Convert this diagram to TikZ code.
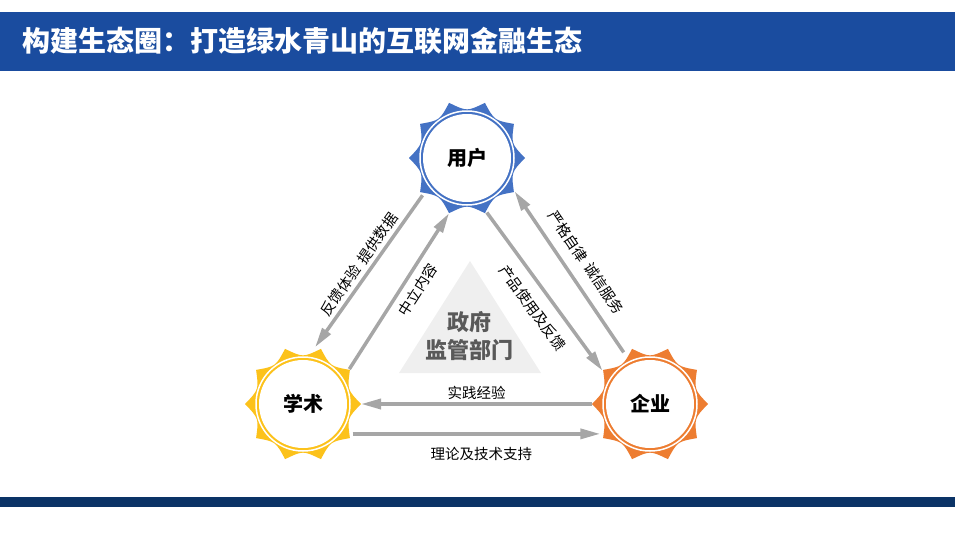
\documentclass[tikz,border=0pt]{standalone}
\usepackage{fontspec}
\newfontfamily\cjk{Noto Sans CJK SC}
\usetikzlibrary{arrows.meta,calc}
\definecolor{barblue}{HTML}{1A4C9F}
\definecolor{bardark}{HTML}{0B3366}
\definecolor{gblue}{HTML}{4472C4}
\definecolor{gyellow}{HTML}{FCC21B}
\definecolor{gorange}{HTML}{ED7D31}
\definecolor{lgray}{HTML}{A6A6A6}
\definecolor{trigray}{HTML}{EFEFEF}
\definecolor{govtext}{HTML}{595959}
\newcommand\mygear[2]{%
  \fill[#2] ($(#1)+(0:58)$)
    \foreach \i in {0,...,9}{ .. controls ($(#1)+({36*\i+18}:46.5)$) .. ($(#1)+({36*\i+36}:58)$)} -- cycle;
  \fill[white] (#1) circle[radius=44];
  \draw[white,line width=1.5pt] (#1) circle[radius=47];
}
\begin{document}
\begin{tikzpicture}[x=1pt,y=-1pt,
  gearnode/.style={circle,minimum size=116pt,inner sep=0pt,outer sep=0pt,
    font=\cjk\bfseries\fontsize{20}{22}\selectfont},
  link/.style={draw=lgray,line width=3.5pt,-{Triangle[length=20pt,width=10pt]}},
  lab/.style={font=\cjk\fontsize{14.5}{15}\selectfont,inner sep=0pt,sloped}]
\useasboundingbox (0,0) rectangle (955,536);
\fill[barblue] (0,12) rectangle (955,71);
\fill[bardark] (0,497) rectangle (955,507);
\node[anchor=west,text=white,font=\cjk\bfseries\fontsize{28}{30}\selectfont] (title) at (19,41) {构建生态圈：打造绿水青山的互联网金融生态};

\fill[trigray] (470,261) -- (541,373) -- (399,373) -- cycle;
\node[align=center,text=govtext,font=\cjk\bfseries\fontsize{22}{28}\selectfont] (gov) at (469,336) {政府\\监管部门};

\coordinate (uc) at (467,158);
\coordinate (xc) at (303,404);
\coordinate (qc) at (650,404);
\mygear{uc}{gblue}
\mygear{xc}{gyellow}
\mygear{qc}{gorange}
\node[gearnode] (u) at (uc) {用户};
\node[gearnode] (x) at (xc) {学术};
\node[gearnode] (q) at (qc) {企业};

\draw[link] (u.220) -- node[lab,pos=0.5,above=3.5pt] {反馈体验\hspace{0.4em}提供数据} (x.78);
\draw[link] (x.37) -- node[lab,pos=0.56,below=6.5pt] {中立内容} (u.252);
\draw[link] (u.290) -- node[lab,pos=0.53,below=11pt] {产品使用及反馈} (q.145);
\draw[link] (q.117) -- node[lab,pos=0.49,above=11pt] {严格自律\hspace{0.4em}诚信服务} (u.325);
\draw[link] (q.180) -- node[lab,pos=0.5,above=3pt] {实践经验} (x.0);
\draw[link] (x.-31) -- node[lab,pos=0.52,below=12pt] {理论及技术支持} (q.-149);
\end{tikzpicture}
\end{document}
